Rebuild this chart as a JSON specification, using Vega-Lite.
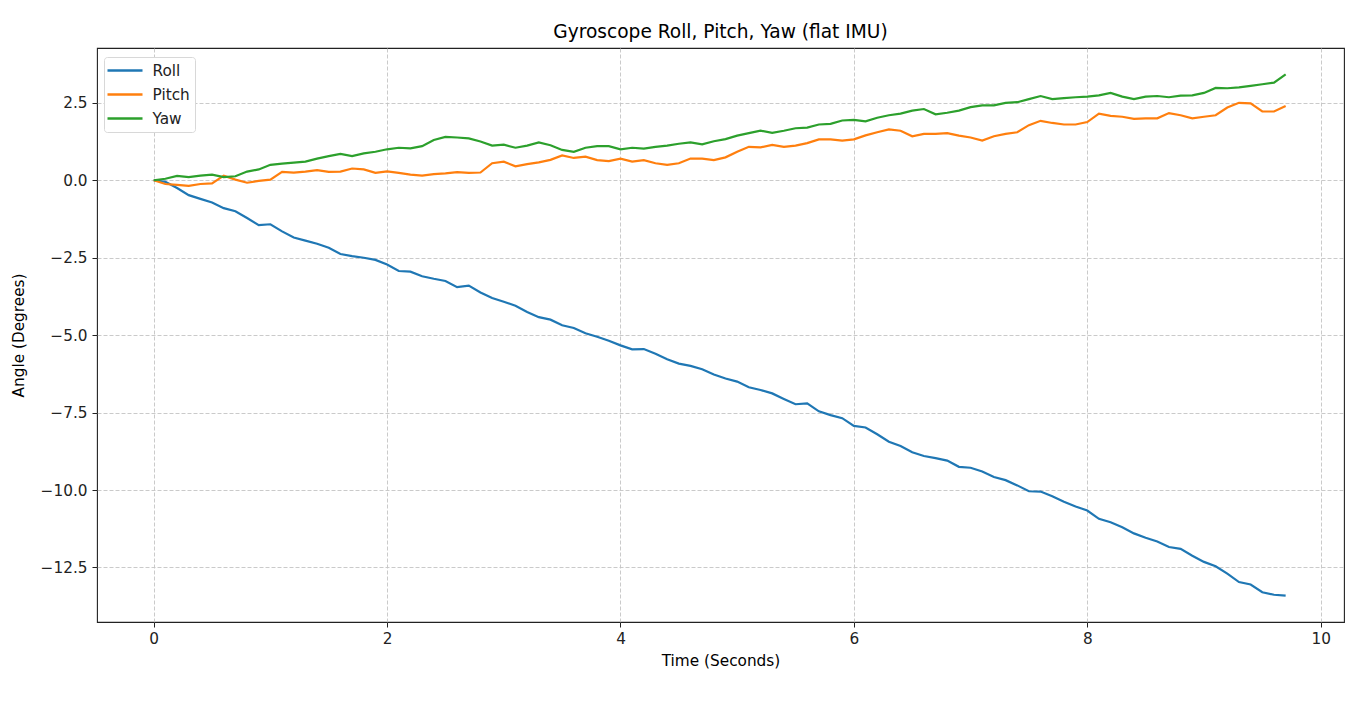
{
  "$schema": "https://vega.github.io/schema/vega-lite/v6.json",
  "autosize": {"type": "none"},
  "padding": {"left": 97, "top": 48, "right": 28, "bottom": 83},
  "width": 1247,
  "height": 574,
  "background": "white",
  "title": {"text": "Gyroscope Roll, Pitch, Yaw (flat IMU)", "fontSize": 18.6, "fontWeight": "normal", "font": "DejaVu Sans", "color": "black", "anchor": "middle", "offset": 6},
  "config": {
    "font": "DejaVu Sans",
    "view": {"stroke": "#222", "strokeWidth": 1.1}
  },
  "data": {"values": [
    {"t": 0.0, "Roll": 0, "Pitch": 0, "Yaw": 0},
    {"t": 0.1, "Roll": -0.05, "Pitch": -0.12, "Yaw": 0.05},
    {"t": 0.2, "Roll": -0.25, "Pitch": -0.15, "Yaw": 0.14},
    {"t": 0.3, "Roll": -0.48, "Pitch": -0.18, "Yaw": 0.1},
    {"t": 0.4, "Roll": -0.6, "Pitch": -0.12, "Yaw": 0.15},
    {"t": 0.5, "Roll": -0.72, "Pitch": -0.1, "Yaw": 0.18},
    {"t": 0.6, "Roll": -0.9, "Pitch": 0.15, "Yaw": 0.1},
    {"t": 0.7, "Roll": -1.0, "Pitch": 0.02, "Yaw": 0.13},
    {"t": 0.8, "Roll": -1.22, "Pitch": -0.08, "Yaw": 0.28},
    {"t": 0.9, "Roll": -1.45, "Pitch": -0.02, "Yaw": 0.35},
    {"t": 1.0, "Roll": -1.42, "Pitch": 0.02, "Yaw": 0.5},
    {"t": 1.1, "Roll": -1.65, "Pitch": 0.27, "Yaw": 0.54},
    {"t": 1.2, "Roll": -1.85, "Pitch": 0.25, "Yaw": 0.57},
    {"t": 1.3, "Roll": -1.95, "Pitch": 0.28, "Yaw": 0.6},
    {"t": 1.4, "Roll": -2.05, "Pitch": 0.33, "Yaw": 0.7},
    {"t": 1.5, "Roll": -2.18, "Pitch": 0.27, "Yaw": 0.78},
    {"t": 1.6, "Roll": -2.38, "Pitch": 0.28, "Yaw": 0.85},
    {"t": 1.7, "Roll": -2.45, "Pitch": 0.38, "Yaw": 0.78},
    {"t": 1.8, "Roll": -2.5, "Pitch": 0.35, "Yaw": 0.87},
    {"t": 1.9, "Roll": -2.57, "Pitch": 0.24, "Yaw": 0.92},
    {"t": 2.0, "Roll": -2.72, "Pitch": 0.29, "Yaw": 1.0},
    {"t": 2.1, "Roll": -2.93, "Pitch": 0.24, "Yaw": 1.05},
    {"t": 2.2, "Roll": -2.95, "Pitch": 0.18, "Yaw": 1.03},
    {"t": 2.3, "Roll": -3.1, "Pitch": 0.15, "Yaw": 1.1},
    {"t": 2.4, "Roll": -3.18, "Pitch": 0.2, "Yaw": 1.3},
    {"t": 2.5, "Roll": -3.25, "Pitch": 0.22, "Yaw": 1.4},
    {"t": 2.6, "Roll": -3.45, "Pitch": 0.26, "Yaw": 1.38},
    {"t": 2.7, "Roll": -3.4, "Pitch": 0.24, "Yaw": 1.35},
    {"t": 2.8, "Roll": -3.62, "Pitch": 0.25, "Yaw": 1.25},
    {"t": 2.9, "Roll": -3.8, "Pitch": 0.55, "Yaw": 1.12},
    {"t": 3.0, "Roll": -3.92, "Pitch": 0.6, "Yaw": 1.15},
    {"t": 3.1, "Roll": -4.05, "Pitch": 0.45, "Yaw": 1.05},
    {"t": 3.2, "Roll": -4.25, "Pitch": 0.52, "Yaw": 1.12},
    {"t": 3.3, "Roll": -4.42, "Pitch": 0.58, "Yaw": 1.22},
    {"t": 3.4, "Roll": -4.5, "Pitch": 0.66, "Yaw": 1.13},
    {"t": 3.5, "Roll": -4.68, "Pitch": 0.8, "Yaw": 0.98},
    {"t": 3.6, "Roll": -4.77, "Pitch": 0.72, "Yaw": 0.92},
    {"t": 3.7, "Roll": -4.94, "Pitch": 0.76, "Yaw": 1.05},
    {"t": 3.8, "Roll": -5.05, "Pitch": 0.65, "Yaw": 1.1},
    {"t": 3.9, "Roll": -5.18, "Pitch": 0.62, "Yaw": 1.1},
    {"t": 4.0, "Roll": -5.33, "Pitch": 0.7, "Yaw": 1.0},
    {"t": 4.1, "Roll": -5.46, "Pitch": 0.6, "Yaw": 1.05},
    {"t": 4.2, "Roll": -5.45, "Pitch": 0.65, "Yaw": 1.02},
    {"t": 4.3, "Roll": -5.6, "Pitch": 0.55, "Yaw": 1.08},
    {"t": 4.4, "Roll": -5.78, "Pitch": 0.5, "Yaw": 1.12},
    {"t": 4.5, "Roll": -5.92, "Pitch": 0.55, "Yaw": 1.18},
    {"t": 4.6, "Roll": -5.99, "Pitch": 0.7, "Yaw": 1.22},
    {"t": 4.7, "Roll": -6.1, "Pitch": 0.7, "Yaw": 1.16},
    {"t": 4.8, "Roll": -6.27, "Pitch": 0.65, "Yaw": 1.26},
    {"t": 4.9, "Roll": -6.4, "Pitch": 0.74, "Yaw": 1.33},
    {"t": 5.0, "Roll": -6.5, "Pitch": 0.92, "Yaw": 1.44},
    {"t": 5.1, "Roll": -6.68, "Pitch": 1.08, "Yaw": 1.52},
    {"t": 5.2, "Roll": -6.77, "Pitch": 1.06, "Yaw": 1.6},
    {"t": 5.3, "Roll": -6.88, "Pitch": 1.14, "Yaw": 1.53},
    {"t": 5.4, "Roll": -7.06, "Pitch": 1.08, "Yaw": 1.6},
    {"t": 5.5, "Roll": -7.23, "Pitch": 1.12, "Yaw": 1.68},
    {"t": 5.6, "Roll": -7.2, "Pitch": 1.2, "Yaw": 1.7},
    {"t": 5.7, "Roll": -7.46, "Pitch": 1.32, "Yaw": 1.8},
    {"t": 5.8, "Roll": -7.58, "Pitch": 1.32, "Yaw": 1.82},
    {"t": 5.9, "Roll": -7.68, "Pitch": 1.28, "Yaw": 1.93},
    {"t": 6.0, "Roll": -7.93, "Pitch": 1.32, "Yaw": 1.95},
    {"t": 6.1, "Roll": -7.98, "Pitch": 1.45, "Yaw": 1.9},
    {"t": 6.2, "Roll": -8.2, "Pitch": 1.55, "Yaw": 2.02},
    {"t": 6.3, "Roll": -8.44, "Pitch": 1.64, "Yaw": 2.1},
    {"t": 6.4, "Roll": -8.58, "Pitch": 1.6, "Yaw": 2.15},
    {"t": 6.5, "Roll": -8.78, "Pitch": 1.42, "Yaw": 2.25},
    {"t": 6.6, "Roll": -8.9, "Pitch": 1.5, "Yaw": 2.3},
    {"t": 6.7, "Roll": -8.97, "Pitch": 1.5, "Yaw": 2.13},
    {"t": 6.8, "Roll": -9.05, "Pitch": 1.52, "Yaw": 2.18},
    {"t": 6.9, "Roll": -9.25, "Pitch": 1.44, "Yaw": 2.25},
    {"t": 7.0, "Roll": -9.28, "Pitch": 1.38, "Yaw": 2.36},
    {"t": 7.1, "Roll": -9.4, "Pitch": 1.28, "Yaw": 2.42},
    {"t": 7.2, "Roll": -9.58, "Pitch": 1.42, "Yaw": 2.42},
    {"t": 7.3, "Roll": -9.68, "Pitch": 1.5, "Yaw": 2.5},
    {"t": 7.4, "Roll": -9.85, "Pitch": 1.55, "Yaw": 2.52},
    {"t": 7.5, "Roll": -10.04, "Pitch": 1.78, "Yaw": 2.62},
    {"t": 7.6, "Roll": -10.05, "Pitch": 1.92, "Yaw": 2.72},
    {"t": 7.7, "Roll": -10.2, "Pitch": 1.85, "Yaw": 2.62},
    {"t": 7.8, "Roll": -10.38, "Pitch": 1.8, "Yaw": 2.65},
    {"t": 7.9, "Roll": -10.53, "Pitch": 1.8, "Yaw": 2.68},
    {"t": 8.0, "Roll": -10.66, "Pitch": 1.88, "Yaw": 2.7},
    {"t": 8.1, "Roll": -10.93, "Pitch": 2.15, "Yaw": 2.74},
    {"t": 8.2, "Roll": -11.04, "Pitch": 2.08, "Yaw": 2.82},
    {"t": 8.3, "Roll": -11.2, "Pitch": 2.05, "Yaw": 2.7},
    {"t": 8.4, "Roll": -11.4, "Pitch": 1.98, "Yaw": 2.62},
    {"t": 8.5, "Roll": -11.54, "Pitch": 2.0, "Yaw": 2.7},
    {"t": 8.6, "Roll": -11.66, "Pitch": 2.0, "Yaw": 2.72},
    {"t": 8.7, "Roll": -11.84, "Pitch": 2.17, "Yaw": 2.68},
    {"t": 8.8, "Roll": -11.9, "Pitch": 2.1, "Yaw": 2.73},
    {"t": 8.9, "Roll": -12.12, "Pitch": 2.0, "Yaw": 2.74},
    {"t": 9.0, "Roll": -12.32, "Pitch": 2.05, "Yaw": 2.82},
    {"t": 9.1, "Roll": -12.46, "Pitch": 2.1, "Yaw": 2.98},
    {"t": 9.2, "Roll": -12.7, "Pitch": 2.35, "Yaw": 2.97},
    {"t": 9.3, "Roll": -12.97, "Pitch": 2.5, "Yaw": 3.0},
    {"t": 9.4, "Roll": -13.05, "Pitch": 2.48, "Yaw": 3.05},
    {"t": 9.5, "Roll": -13.3, "Pitch": 2.22, "Yaw": 3.1},
    {"t": 9.6, "Roll": -13.38, "Pitch": 2.22, "Yaw": 3.15},
    {"t": 9.7, "Roll": -13.41, "Pitch": 2.4, "Yaw": 3.42}
  ]},
  "transform": [{"fold": ["Roll", "Pitch", "Yaw"], "as": ["series", "angle"]}],
  "mark": {"type": "line", "strokeWidth": 2.2, "interpolate": "linear"},
  "encoding": {
    "x": {
      "field": "t", "type": "quantitative",
      "scale": {"domain": [-0.486, 10.2], "nice": false, "zero": false},
      "axis": {
        "title": "Time (Seconds)", "titleFontSize": 15.3, "titleFontWeight": "normal", "titleColor": "black", "titlePadding": 7,
        "values": [0, 2, 4, 6, 8, 10], "format": "d",
        "labelFontSize": 15.3, "labelColor": "#222", "labelPadding": 4,
        "tickSize": 5, "tickColor": "#222", "domain": false,
        "grid": true, "gridColor": "#c4c4c4", "gridDash": [4, 2], "gridWidth": 0.9
      }
    },
    "y": {
      "field": "angle", "type": "quantitative",
      "scale": {"domain": [-14.26, 4.27], "nice": false, "zero": false},
      "axis": {
        "title": "Angle (Degrees)", "titleFontSize": 15.3, "titleFontWeight": "normal", "titleColor": "black", "titlePadding": 14,
        "values": [-12.5, -10, -7.5, -5, -2.5, 0, 2.5],
        "labelExpr": "replace(format(datum.value, '.1f'), '-', '−')",
        "labelFontSize": 15.3, "labelColor": "#222", "labelPadding": 5,
        "tickSize": 5, "tickColor": "#222", "domain": false,
        "grid": true, "gridColor": "#c4c4c4", "gridDash": [4, 2], "gridWidth": 0.9
      }
    },
    "color": {
      "field": "series", "type": "nominal",
      "scale": {"domain": ["Roll", "Pitch", "Yaw"], "range": ["#1f77b4", "#ff7f0e", "#2ca02c"]},
      "legend": {
        "title": null, "orient": "none", "legendX": 7, "legendY": 9,
        "symbolType": "M-2.5,0H2.5", "symbolSize": 196, "symbolStrokeWidth": 2.4,
        "symbolOffset": 7.5,
        "labelFontSize": 15.3, "labelColor": "#222", "labelOffset": 19,
        "rowPadding": 7, "padding": 5,
        "strokeColor": "#d8d8d8", "fillColor": "white", "cornerRadius": 3
      }
    }
  }
}
